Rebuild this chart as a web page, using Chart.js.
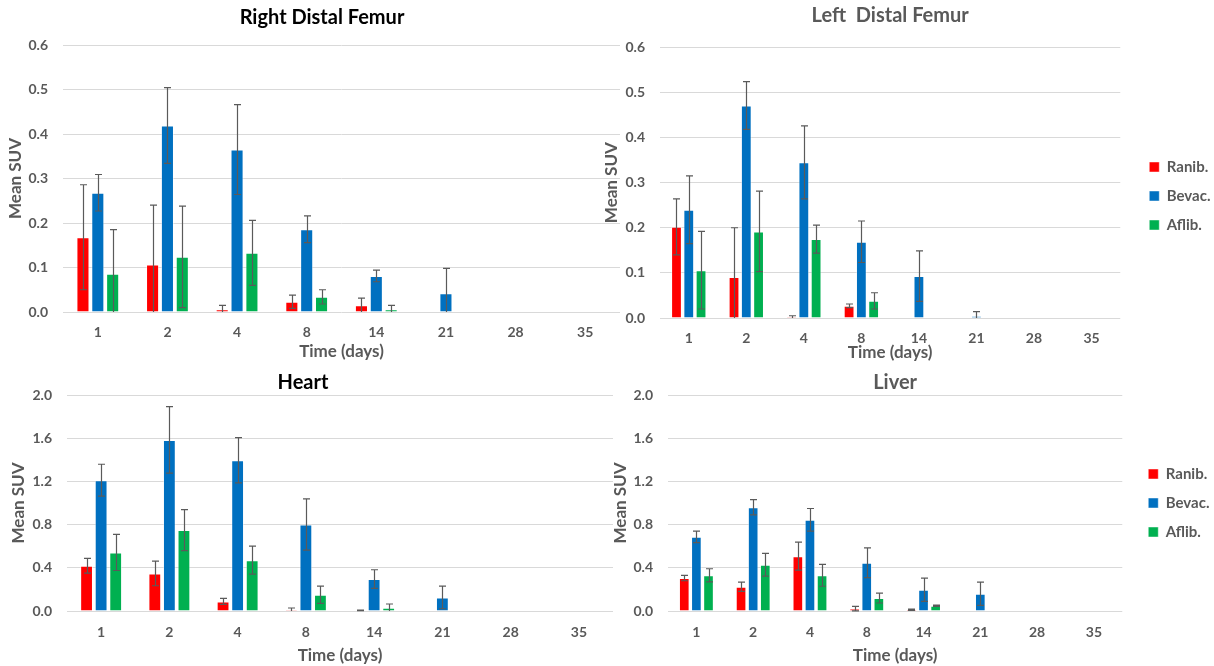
<!DOCTYPE html>
<html><head><meta charset="utf-8">
<script src="https://cdn.jsdelivr.net/npm/chart.js@4.4.1/dist/chart.umd.min.js"></script>
<style>
html,body{margin:0;padding:0;background:#fff;width:1214px;height:666px;overflow:hidden;}
canvas{position:absolute;}
</style></head><body>
<canvas id="c1" width="626" height="362" style="left:0px;top:0px"></canvas>
<canvas id="c2" width="614" height="363" style="left:600px;top:0px"></canvas>
<canvas id="c3" width="614" height="304" style="left:0px;top:362px"></canvas>
<canvas id="c4" width="614" height="304" style="left:600px;top:362px"></canvas>
<script>
// ---- categories & tick labels ----
const days = ['1','2','4','8','14','21','28','35'];
const seriesNames = ['Ranib.','Bevac.','Aflib.'];
const femurTicks = [0, 0.1, 0.2, 0.3, 0.4, 0.5, 0.6];
const organTicks = [0, 0.4, 0.8, 1.2, 1.6, 2.0];

// ---- Right Distal Femur ----
const rdfRanib    = [0.168, 0.107, 0.006, 0.023, 0.015, null, null, null];
const rdfRanibErr = [0.118, 0.133, 0.009, 0.015, 0.016, null, null, null];
const rdfBevac    = [0.268, 0.419, 0.365, 0.186, 0.081, 0.042, null, null];
const rdfBevacErr = [0.041, 0.085, 0.101, 0.030, 0.013, 0.056, null, null];
const rdfAflib    = [0.086, 0.124, 0.133, 0.034, 0.006, null, null, null];
const rdfAflibErr = [0.099, 0.114, 0.073, 0.016, 0.009, null, null, null];

// ---- Left Distal Femur ----
const ldfRanib    = [0.202, 0.091, 0.002, 0.027, null, null, null, null];
const ldfRanibErr = [0.062, 0.109, 0.003, 0.004, null, null, null, null];
const ldfBevac    = [0.240, 0.471, 0.345, 0.169, 0.093, 0.004, null, null];
const ldfBevacErr = [0.075, 0.053, 0.081, 0.046, 0.056, 0.010, null, null];
const ldfAflib    = [0.106, 0.192, 0.175, 0.038, null, null, null, null];
const ldfAflibErr = [0.086, 0.089, 0.031, 0.018, null, null, null, null];

// ---- Heart ----
const heartRanib    = [0.419, 0.348, 0.089, 0.009, 0.006, null, null, null];
const heartRanibErr = [0.068, 0.114, 0.028, 0.019, 0.003, null, null, null];
const heartBevac    = [1.211, 1.584, 1.396, 0.801, 0.296, 0.126, null, null];
const heartBevacErr = [0.148, 0.308, 0.210, 0.238, 0.086, 0.105, null, null];
const heartAflib    = [0.542, 0.749, 0.471, 0.151, 0.031, null, null, null];
const heartAflibErr = [0.167, 0.190, 0.130, 0.080, 0.034, null, null, null];

// ---- Liver ----
const liverRanib    = [0.305, 0.225, 0.508, 0.022, 0.012, null, null, null];
const liverRanibErr = [0.025, 0.043, 0.130, 0.021, 0.006, null, null, null];
const liverBevac    = [0.687, 0.961, 0.844, 0.447, 0.197, 0.160, null, null];
const liverBevacErr = [0.053, 0.071, 0.105, 0.138, 0.108, 0.108, null, null];
const liverAflib    = [0.330, 0.428, 0.330, 0.120, 0.049, null, null, null];
const liverAflibErr = [0.061, 0.105, 0.101, 0.046, 0.006, null, null, null];

const COLORS = ['#FF0000', '#0070C0', '#00B050'];
const GRAY = '#595959';
const F = "Lato, 'Open Sans', sans-serif";

const errorBars = {
  id: 'errorBars',
  afterDatasetsDraw(chart) {
    const ctx = chart.ctx, y = chart.scales.y;
    ctx.save();
    ctx.strokeStyle = '#5a5a5a';
    ctx.lineWidth = 1.2;
    chart.data.datasets.forEach((ds, i) => {
      const meta = chart.getDatasetMeta(i);
      meta.data.forEach((bar, j) => {
        const v = ds.data[j], e = ds.errors[j];
        if (v == null || e == null) return;
        const x = Math.round(bar.x) + 0.5;
        const top = y.getPixelForValue(v + e);
        const lo = Math.max(v - e, 0);
        const bot = y.getPixelForValue(lo);
        ctx.beginPath();
        ctx.moveTo(x, top); ctx.lineTo(x, bot);
        ctx.moveTo(x - 3.5, top); ctx.lineTo(x + 3.5, top);
        if (lo > 0) { ctx.moveTo(x - 3.5, bot); ctx.lineTo(x + 3.5, bot); }
        ctx.stroke();
      });
    });
    ctx.restore();
  }
};

function panel(id, o) {
  const vals = [o.r, o.b, o.a], errs = [o.re, o.be, o.ae];
  const scales = {
    x: {
      grid: {display: false, drawTicks: false}, border: {display: false},
      ticks: {color: GRAY, font: {family: F, size: 14, weight: 'bold'}, padding: o.xtp, maxRotation: 0, autoSkip: false},
      title: {display: true, text: 'Time (days)', color: GRAY, font: {family: F, size: 17, weight: 'bold'}, padding: {top: 0, bottom: 0}},
      afterFit: s => { s.height = o.xh; }
    },
    y: {
      min: 0, max: o.ticks[o.ticks.length - 1],
      grid: {color: '#d9d9d9', drawTicks: false, lineWidth: 1},
      border: {display: false},
      afterBuildTicks: s => { s.ticks = o.ticks.map(v => ({value: v})); },
      ticks: {color: GRAY, font: {family: F, size: 14, weight: 'bold'}, padding: 15, callback: v => Number(v).toFixed(1)},
      title: {display: true, text: 'Mean SUV', color: GRAY, font: {family: F, size: 17, weight: 'bold'}, padding: {top: o.ytp, bottom: 0}},
      afterFit: s => { s.width = o.yw; }
    }
  };
  if (o.gap) {
    scales.gap = {
      type: 'linear', position: 'right', display: true,
      grid: {display: false, drawTicks: false}, border: {display: false}, ticks: {display: false},
      afterFit: s => { s.width = o.gap; }
    };
  }
  return new Chart(document.getElementById(id), {
    type: 'bar',
    data: {
      labels: days,
      datasets: seriesNames.map((n, i) => ({
        label: n, data: vals[i], errors: errs[i],
        backgroundColor: COLORS[i], borderColor: 'rgba(255,255,255,0.45)', borderWidth: 1
      }))
    },
    options: {
      responsive: false, animation: false, devicePixelRatio: 1,
      layout: {padding: o.pad},
      datasets: {bar: {categoryPercentage: 0.64, barPercentage: 0.88}},
      plugins: {
        title: {display: true, text: o.title, color: o.titleColor, fullSize: o.titleFull,
                font: {family: F, size: 20, weight: 'bold'}, padding: o.titlePad},
        legend: o.legend ? {
          display: true, position: 'right', align: 'center', fullSize: false,
          title: {display: o.legTitle > 0, text: ' ', font: {size: 10}, padding: {top: o.legTitle, bottom: o.legTitle}},
          labels: {boxWidth: 10, boxHeight: 10, padding: 14, color: GRAY, font: {family: F, size: 15, weight: 'bold'}}
        } : {display: false},
        tooltip: {enabled: false}
      },
      scales: scales
    },
    plugins: [errorBars]
  });
}

panel('c1', {title: 'Right Distal Femur', titleColor: '#000000', titleFull: true, titlePad: {top: 6, bottom: 15},
  r: rdfRanib, re: rdfRanibErr, b: rdfBevac, be: rdfBevacErr, a: rdfAflib, ae: rdfAflibErr,
  ticks: femurTicks, pad: {left: 24, right: 6, top: 0, bottom: 0}, yw: 39, ytp: -18.2, xh: 50, xtp: 12, legend: false});

panel('c2', {title: 'Left  Distal Femur', titleColor: GRAY, titleFull: false, titlePad: {top: 4, bottom: 19.3},
  r: ldfRanib, re: ldfRanibErr, b: ldfBevac, be: ldfBevacErr, a: ldfAflib, ae: ldfAflibErr,
  ticks: femurTicks, pad: {left: 0, right: -6.5, top: 0, bottom: 0}, yw: 60, ytp: 1.8, xh: 45, xtp: 11.6,
  legend: true, legTitle: 7.35, gap: 15});

panel('c3', {title: 'Heart', titleColor: '#000000', titleFull: true, titlePad: {top: 9, bottom: 0},
  r: heartRanib, re: heartRanibErr, b: heartBevac, be: heartBevacErr, a: heartAflib, ae: heartAflibErr,
  ticks: organTicks, pad: {left: -7, right: 1, top: 0, bottom: 0}, yw: 74, ytp: 15.3, xh: 55, xtp: 12.6, legend: false});

panel('c4', {title: 'Liver', titleColor: GRAY, titleFull: false, titlePad: {top: 9, bottom: 0},
  r: liverRanib, re: liverRanibErr, b: liverBevac, be: liverBevacErr, a: liverAflib, ae: liverAflibErr,
  ticks: organTicks, pad: {left: 0, right: -5.5, top: 0, bottom: 0}, yw: 68, ytp: 10.8, xh: 55, xtp: 12.6,
  legend: true, legTitle: 0, gap: 12});
</script>
</body></html>
